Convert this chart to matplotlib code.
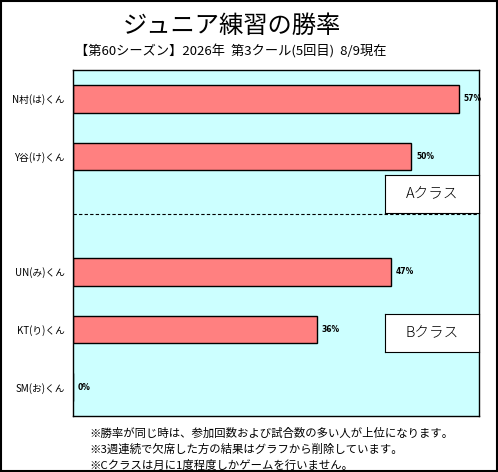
import matplotlib.pyplot as plt
import matplotlib.patches as mpatches

plt.rcParams['font.family'] = ['Noto Sans CJK JP', 'DejaVu Sans']

# data (top to bottom, "" = spacer slot between classes)
players = ["N村(は)くん", "Y谷(け)くん", "", "UN(み)くん", "KT(り)くん", "SM(お)くん"]
win_rate = [57, 50, None, 47, 36, 0]
class_names = ["Aクラス", "Bクラス"]
notes = [
    "※勝率が同じ時は、参加回数および試合数の多い人が上位になります。",
    "※3週連続で欠席した方の結果はグラフから削除しています。",
    "※Cクラスは月に1度程度しかゲームを行いません。",
]

fig = plt.figure(figsize=(4.98, 4.72), dpi=100)
W, H = 498, 472
ax = fig.add_axes([73 / W, 1 - 416 / H, (479 - 73) / W, (416 - 70) / H])
ax.set_facecolor("#CCFFFF")

ypos = list(range(len(players)))
for y, v in zip(ypos, win_rate):
    if v is None:
        continue
    ax.barh(y, v, height=0.48, color="#FF8080", edgecolor="black", linewidth=1)
    ax.text(v + 0.7, y, f"{v}%", va="center", ha="left", fontsize=5.5,
            fontweight="bold", family="DejaVu Sans")

ax.set_xlim(0, 60)
ax.set_ylim(len(players) - 0.5, -0.5)
ax.set_yticks(ypos)
ax.set_yticklabels(players, fontsize=7)
ax.tick_params(axis="y", length=0, pad=6)
ax.set_xticks([])
for s in ax.spines.values():
    s.set_linewidth(1)

# class divider
ax.axhline(2, color="black", linestyle=(0, (3, 2)), linewidth=0.8)

# class labels
for cname, ytop in zip(class_names, [175, 314]):
    bx = fig.add_axes([385 / W, 1 - (ytop + 38) / H, (479 - 385) / W, 38 / H])
    bx.set_xticks([])
    bx.set_yticks([])
    bx.set_facecolor("white")
    for s in bx.spines.values():
        s.set_linewidth(0.8)
    bx.text(0.5, 0.5, cname, ha="center", va="center", fontsize=10.5,
            fontweight="light", transform=bx.transAxes)

fig.text(232 / W, 1 - 26 / H, "ジュニア練習の勝率", ha="center", va="center",
         fontsize=17.5)
fig.text(231 / W, 1 - 52 / H, "【第60シーズン】2026年  第3クール(5回目)  8/9現在",
         ha="center", va="center", fontsize=9.5)
for i, n in enumerate(notes):
    fig.text(89 / W, 1 - (433 + 16 * i) / H, n, ha="left", va="center", fontsize=8.2)

# outer frame
fig.patches.append(mpatches.Rectangle((0.002, 0.002), 0.995, 0.995, transform=fig.transFigure,
                                      fill=False, edgecolor="black", linewidth=1.5))

fig.savefig("out.png", dpi=100)
